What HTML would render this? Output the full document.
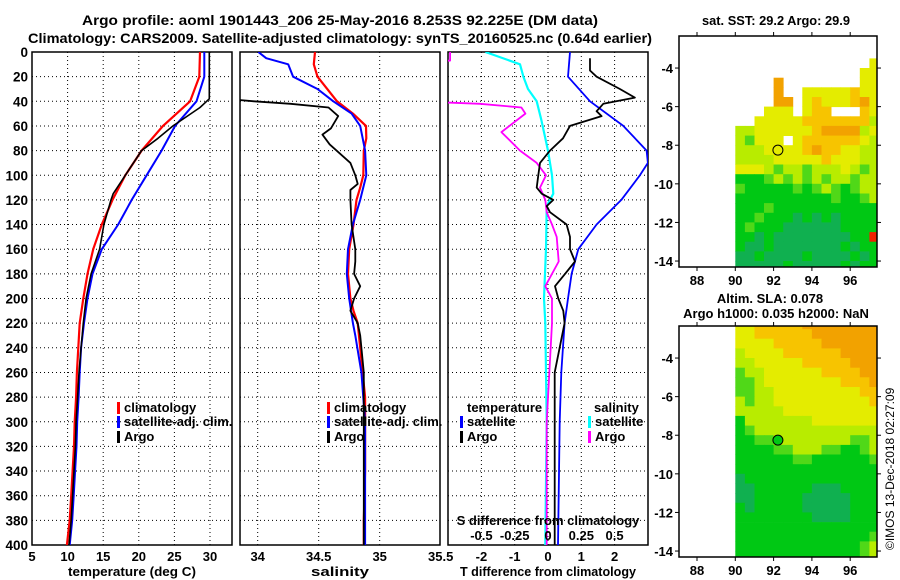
<!DOCTYPE html>
<html><head><meta charset="utf-8"><style>
html,body{margin:0;padding:0;background:#fff}
svg{display:block}
text{font-family:"Liberation Sans",sans-serif;font-weight:bold;fill:#000}
</style></head><body>
<svg id="fig" width="900" height="580" viewBox="0 0 900 580" xmlns="http://www.w3.org/2000/svg">
<defs>
<clipPath id="c1"><rect x="32" y="52" width="200" height="493"/></clipPath>
<clipPath id="c2"><rect x="240" y="52" width="200" height="493"/></clipPath>
<clipPath id="c3"><rect x="448" y="52" width="200" height="493"/></clipPath>
<clipPath id="m1"><rect x="679" y="36" width="198" height="231"/></clipPath>
<clipPath id="m2"><rect x="679" y="326" width="198" height="231"/></clipPath>
</defs>
<text x="340" y="25" text-anchor="middle" font-size="14" textLength="516" lengthAdjust="spacingAndGlyphs">Argo profile: aoml 1901443_206 25-May-2016 8.253S 92.225E (DM data)</text>
<text x="340" y="43" text-anchor="middle" font-size="14" textLength="624" lengthAdjust="spacingAndGlyphs">Climatology: CARS2009. Satellite-adjusted climatology: synTS_20160525.nc (0.64d earlier)</text>
<text x="776" y="25" text-anchor="middle" font-size="13" textLength="148" lengthAdjust="spacingAndGlyphs">sat. SST: 29.2 Argo: 29.9</text>
<text x="770" y="303" text-anchor="middle" font-size="13">Altim. SLA: 0.078</text>
<text x="776" y="318" text-anchor="middle" font-size="13">Argo h1000: 0.035 h2000: NaN</text>
<text transform="translate(894,550) rotate(-90)" font-size="12" style="font-weight:normal">©IMOS 13-Dec-2018 02:27:09</text>
<g id="g"></g>
</svg>
<script>
// ---- Temperature panel data ----
const tempDepth = [0,20,40,60,80,100,120,140,160,180,200,220,240,260,280,300,320,340,360,380,400];
const tempClim  = [28.6,28.5,27.2,23.4,20.4,18.1,16.3,14.8,13.6,12.8,12.2,11.7,11.5,11.3,11.2,11.0,10.9,10.7,10.5,10.3,9.9];
const tempSat   = [29.2,29.2,28.1,25.1,23.2,21.1,19.0,17.1,14.8,13.5,12.8,12.3,11.9,11.7,11.55,11.35,11.25,11.05,10.85,10.65,10.3];
const argoTDepth = [0,38,45,60,70,80,100,115,120,140,160,180,200,220,240,260,280,300,320,340,360,380,400];
const argoT      = [29.9,29.9,28.6,24.8,22.7,20.4,18.1,16.4,16.1,15.1,14.5,13.3,12.6,12.2,11.9,11.6,11.4,11.2,11.1,10.9,10.7,10.5,10.2];
// ---- Salinity panel data ----
const salClimDepth = [0,10,20,40,50,60,70,80,100,110,120,140,160,180,200,210,220,240,260,280,300,340,380,400];
const salClim      = [34.47,34.46,34.49,34.65,34.78,34.888,34.89,34.87,34.866,34.84,34.81,34.785,34.75,34.74,34.76,34.785,34.82,34.84,34.86,34.88,34.88,34.88,34.87,34.87];
const salSatDepth = [0,5,10,20,30,40,50,60,80,100,120,140,160,180,200,220,230,260,300,400];
const salSat      = [34.005,34.07,34.25,34.29,34.49,34.62,34.77,34.84,34.88,34.89,34.84,34.78,34.74,34.73,34.75,34.78,34.80,34.85,34.88,34.88];
const argoSDepth = [0,38,39,40,42,45,52,62,67,75,90,100,107,112,120,140,160,170,180,190,200,210,220,230,260,300,400];
const argoS      = [33.2,33.2,33.86,33.97,34.27,34.58,34.66,34.60,34.53,34.59,34.76,34.80,34.82,34.76,34.76,34.77,34.80,34.80,34.79,34.84,34.79,34.76,34.82,34.84,34.87,34.87,34.87];
// ---- Difference panel data ----
const dTSatDepth = [0,20,40,60,80,90,100,120,140,160,180,200,220,260,300,400];
const dTSat      = [0.66,0.6,1.26,2.26,2.96,3.0,2.76,2.2,1.46,0.91,0.71,0.6,0.5,0.4,0.35,0.3];
const dTArgoDepth = [5,15,20,30,37,42,48,52,60,70,80,90,100,110,115,120,125,130,140,150,160,170,180,190,200,210,220,260,300,400];
const dTArgo      = [1.26,1.26,1.46,2.16,2.61,1.66,1.46,1.61,0.66,0.45,0.06,-0.24,-0.29,-0.34,-0.19,0.16,-0.04,0.06,0.56,0.66,0.66,0.81,0.51,0.21,0.31,0.46,0.5,0.2,0.2,0.2];
const dSSatDepth = [0,10,20,30,40,55,80,100,115,125,160,200,220,300,400];
const dSSat      = [-0.47,-0.21,-0.185,-0.15,-0.085,-0.05,0.0,0.03,0.04,-0.01,-0.015,-0.03,-0.02,-0.01,-0.02];
const dSArgoDepth = [0,7,8,38,40,42,45,50,65,80,90,100,110,120,130,140,150,170,190,200,220,300,400];
const dSArgo      = [-0.735,-0.735,-1,-1,-1,-0.51,-0.2,-0.17,-0.35,-0.21,-0.085,-0.015,-0.06,-0.02,-0.01,0.03,0.065,0.08,-0.02,0.03,0.03,-0.01,-0.01];
// ---- Tick labels ----
const depthTicks = [0,20,40,60,80,100,120,140,160,180,200,220,240,260,280,300,320,340,360,380,400];
const tempTicks = [5,10,15,20,25,30];
const salTicks = [34,34.5,35,35.5];
const dTTicks = [-2,-1,0,1,2];
const dSTicks = [-0.5,-0.25,0,0.25,0.5];
const lonTicks = [88,90,92,94,96];
const latTicks = [-4,-6,-8,-10,-12,-14];
// ---- Map data (0.5 deg cells from 90E, rows from lat top) ----
const sstLatTop = -3.5;
const sstRows = [
"..............y",
".............yy",
"....O........yy",
"....O..yyyyyoyy",
"....OO.yoyyyoOy",
"...yyy.yoo...oy",
"..yyyyyoooooool",
"llyyyyyyoOOOOly",
"lgyyy.yooooooyl",
"lllyyyyoOooyyll",
"llllyyyyyoyyyll",
"yyylgllglllylgl",
"GGGglglglgllgll",
"gGGGGGgGglgGgll",
"GGGGGGGGGGgGGgl",
"GGGgGGGGGGGGGGG",
"GGgGGGTGTGTGGGG",
"GgGGGTTTTTTGGGG",
"GGTGTTTTTTTTGGR",
"GTTGTTTTTTTGTGG",
"TTGTTTTGTTTTGTG",
"TTTTTGTTTTTGTGG"];
const slaLatTop = -2.0;
const slaRows = [
"yyoooooOOOOOOOO",
"yyooooooOOOOOOO",
"yyyyoooooOOOOOO",
"lyyyyooooooOOOO",
"llyyyyyoooooOOO",
"gllyyyyyyooooOO",
"gglyyyyyyyyoooO",
"gglly yyyyyyyoo".replace(' ','y'),
"lgllyyyyyyyyyyo",
"lllllyyyyyyyyyy",
"Glllllllyyyyyyy",
"Gglllllllllllll",
"GGggllllllllggl",
"GGGGgglllggGGgl",
"GGGGGGggGGGGGGg",
"GGGGGGGGGGGGGGG",
"TGGGGGGGGGGGGGG",
"TTGGGGGGTTTGGGG",
"TTGGGGGTTTTTGGG",
"GTGGGGGTTTTTGGG",
"GGGGGGGGTTTTGGG",
"GGGGGGGGGGGGGGG",
"GGGGGGGGGGGGGGg",
"GGGGGGGGGGGGGgl",
"GGGGGGGGGGGGGgl"];
const argoLon = 92.225, argoLat = -8.253;

const NS='http://www.w3.org/2000/svg';
const G=document.getElementById('g');
function el(tag,attrs,parent){const e=document.createElementNS(NS,tag);for(const k in attrs)e.setAttribute(k,attrs[k]);(parent||G).appendChild(e);return e;}
const yD = d => 52 + d*1.2325;
const xT = t => 32 + (t-5)*7.12;
const xS = s => 240 + (s-33.855)*122;
const xD = t => 548 + t*33.3;
const xDS = s => xD(s*4);
const lonX = lon => 679 + (lon-87.06)*19.15;
const latY = (lat,off) => off + 36 + (-2.34-lat)*19.3;

function panel(x0,name,vTicks,xf,labels,labelFmt,title,titleLen){
  const g=el('g',{});
  
  
  for(const d of depthTicks){ if(d===0||d===400)continue;
    const l=el('line',{x1:x0,x2:x0+200,y1:yD(d),y2:yD(d),stroke:'#000','stroke-width':1,'stroke-dasharray':'1,3'},g);
     }
  for(const v of vTicks){const x=xf(v); if(x<=x0+1||x>=x0+199)continue;
    const l=el('line',{x1:x,x2:x,y1:52,y2:545,stroke:'#000','stroke-width':1,'stroke-dasharray':'1,3'},g);
     }
  const r=el('rect',{x:x0,y:52,width:200,height:493,fill:'none',stroke:'#000','stroke-width':1.5},g);
   
  for(const v of labels){const t=el('text',{x:xf(v),y:561,'text-anchor':'middle','font-size':13},g);t.textContent=labelFmt(v);
     }
  const t=el('text',{x:x0+100,y:576,'text-anchor':'middle','font-size':13,textLength:titleLen,lengthAdjust:'spacingAndGlyphs'},g);t.textContent=title;
   
  return g;
}
function series(xs,ds,xf,color,w,clip,name){
  const pts=xs.map((v,i)=>xf(v).toFixed(1)+','+yD(ds[i]).toFixed(1)).join(' ');
  const p=el('polyline',{points:pts,fill:'none',stroke:color,'stroke-width':w,'clip-path':'url(#'+clip+')','stroke-linejoin':'round'});
   
}
function legend(x,y,color,label){
  const m=el('rect',{x:x,y:y-10,width:3,height:12,fill:color});
   
  const t=el('text',{x:x+7,y:y,'font-size':13});t.textContent=label;
   
}
for(const d of depthTicks){const t=el('text',{x:28,y:yD(d)+5,'text-anchor':'end','font-size':13.5});t.textContent=d;
   }

panel(32,'temperature-panel',tempTicks,xT,tempTicks,v=>v,'temperature (deg C)',128);
panel(240,'salinity-panel',salTicks,xS,salTicks,v=>v,'salinity',58);
panel(448,'difference-panel',dTTicks,xD,dTTicks,v=>v,'T difference from climatology',176);

series(tempClim,tempDepth,xT,'#f00',2.2,'c1','temp-climatology-line');
series(tempSat,tempDepth,xT,'#00f',2,'c1','temp-satellite-line');
series(argoT,argoTDepth,xT,'#000',1.6,'c1','temp-argo-line');
series(salClim,salClimDepth,xS,'#f00',2.2,'c2','sal-climatology-line');
series(salSat,salSatDepth,xS,'#00f',2,'c2','sal-satellite-line');
series(argoS,argoSDepth,xS,'#000',1.8,'c2','sal-argo-line');
series(dSSat,dSSatDepth,xDS,'#0ff',2.2,'c3','sdiff-satellite-line');
series(dSArgo,dSArgoDepth,xDS,'#f0f',1.8,'c3','sdiff-argo-line');
series(dTSat,dTSatDepth,xD,'#00f',1.8,'c3','tdiff-satellite-line');
series(dTArgo,dTArgoDepth,xD,'#000',1.8,'c3','tdiff-argo-line');

legend(117,412,'#f00','climatology');
legend(117,426,'#00f','satellite-adj. clim.');
legend(117,441,'#000','Argo');
legend(327,412,'#f00','climatology');
legend(327,426,'#00f','satellite-adj. clim.');
legend(327,441,'#000','Argo');
{const t=el('text',{x:467,y:412,'font-size':13});t.textContent='temperature';}
{const t=el('text',{x:594,y:412,'font-size':13});t.textContent='salinity';}
legend(460,426,'#00f','satellite');
legend(460,441,'#000','Argo');
legend(588,426,'#0ff','satellite');
legend(588,441,'#f0f','Argo');
{const t=el('text',{x:548,y:525,'text-anchor':'middle','font-size':13});t.textContent='S difference from climatology';}
for(const v of dSTicks){const t=el('text',{x:xDS(v),y:540,'text-anchor':'middle','font-size':13});t.textContent=v;
   }

const pal={O:'#f2a200',o:'#f7c400',y:'#e4ec00',l:'#b8ec00',g:'#50d818',G:'#00c814',T:'#10b050',R:'#f02000'};
function drawMap(rows,latTop,off,clip,name,fillCircle){
  const g=el('g',{'clip-path':'url(#'+clip+')'});
   
  rows.forEach((row,r)=>{for(let c=0;c<row.length;c++){const k=row[c]; if(!pal[k])continue;
    const lon=90+c*0.5, lat=latTop-r*0.5;
    const x=lonX(lon), y=latY(lat,off);
    const cell=el('rect',{x:x.toFixed(1),y:y.toFixed(1),width:(lonX(lon+0.5)-x+0.4).toFixed(1),height:(latY(lat-0.5,off)-y+0.4).toFixed(1),fill:pal[k]},g);
     }});
  const c=el('circle',{cx:lonX(argoLon),cy:latY(argoLat,off),r:5,fill:fillCircle,stroke:'#000','stroke-width':1});
   
  const f=el('rect',{x:679,y:off+36,width:198,height:231,fill:'none',stroke:'#000','stroke-width':1.5});
   
  for(const lon of lonTicks){const x=lonX(lon);
    el('line',{x1:x,x2:x,y1:off+32,y2:off+36,stroke:'#000'});
    el('line',{x1:x,x2:x,y1:off+267,y2:off+271,stroke:'#000'});
    const t=el('text',{x:x,y:off+285,'text-anchor':'middle','font-size':13});t.textContent=lon;
     }
  for(const lat of latTicks){const y=latY(lat,off);
    el('line',{x1:877,x2:881,y1:y,y2:y,stroke:'#000'});
    el('line',{x1:675,x2:679,y1:y,y2:y,stroke:'#000'});
    const t=el('text',{x:673,y:y+5,'text-anchor':'end','font-size':13});t.textContent=lat;
     }
}
drawMap(sstRows,sstLatTop,0,'m1','sst-map','#e4ec00');
drawMap(slaRows,slaLatTop,290,'m2','sla-map','#00c814');
</script>
</body></html>
